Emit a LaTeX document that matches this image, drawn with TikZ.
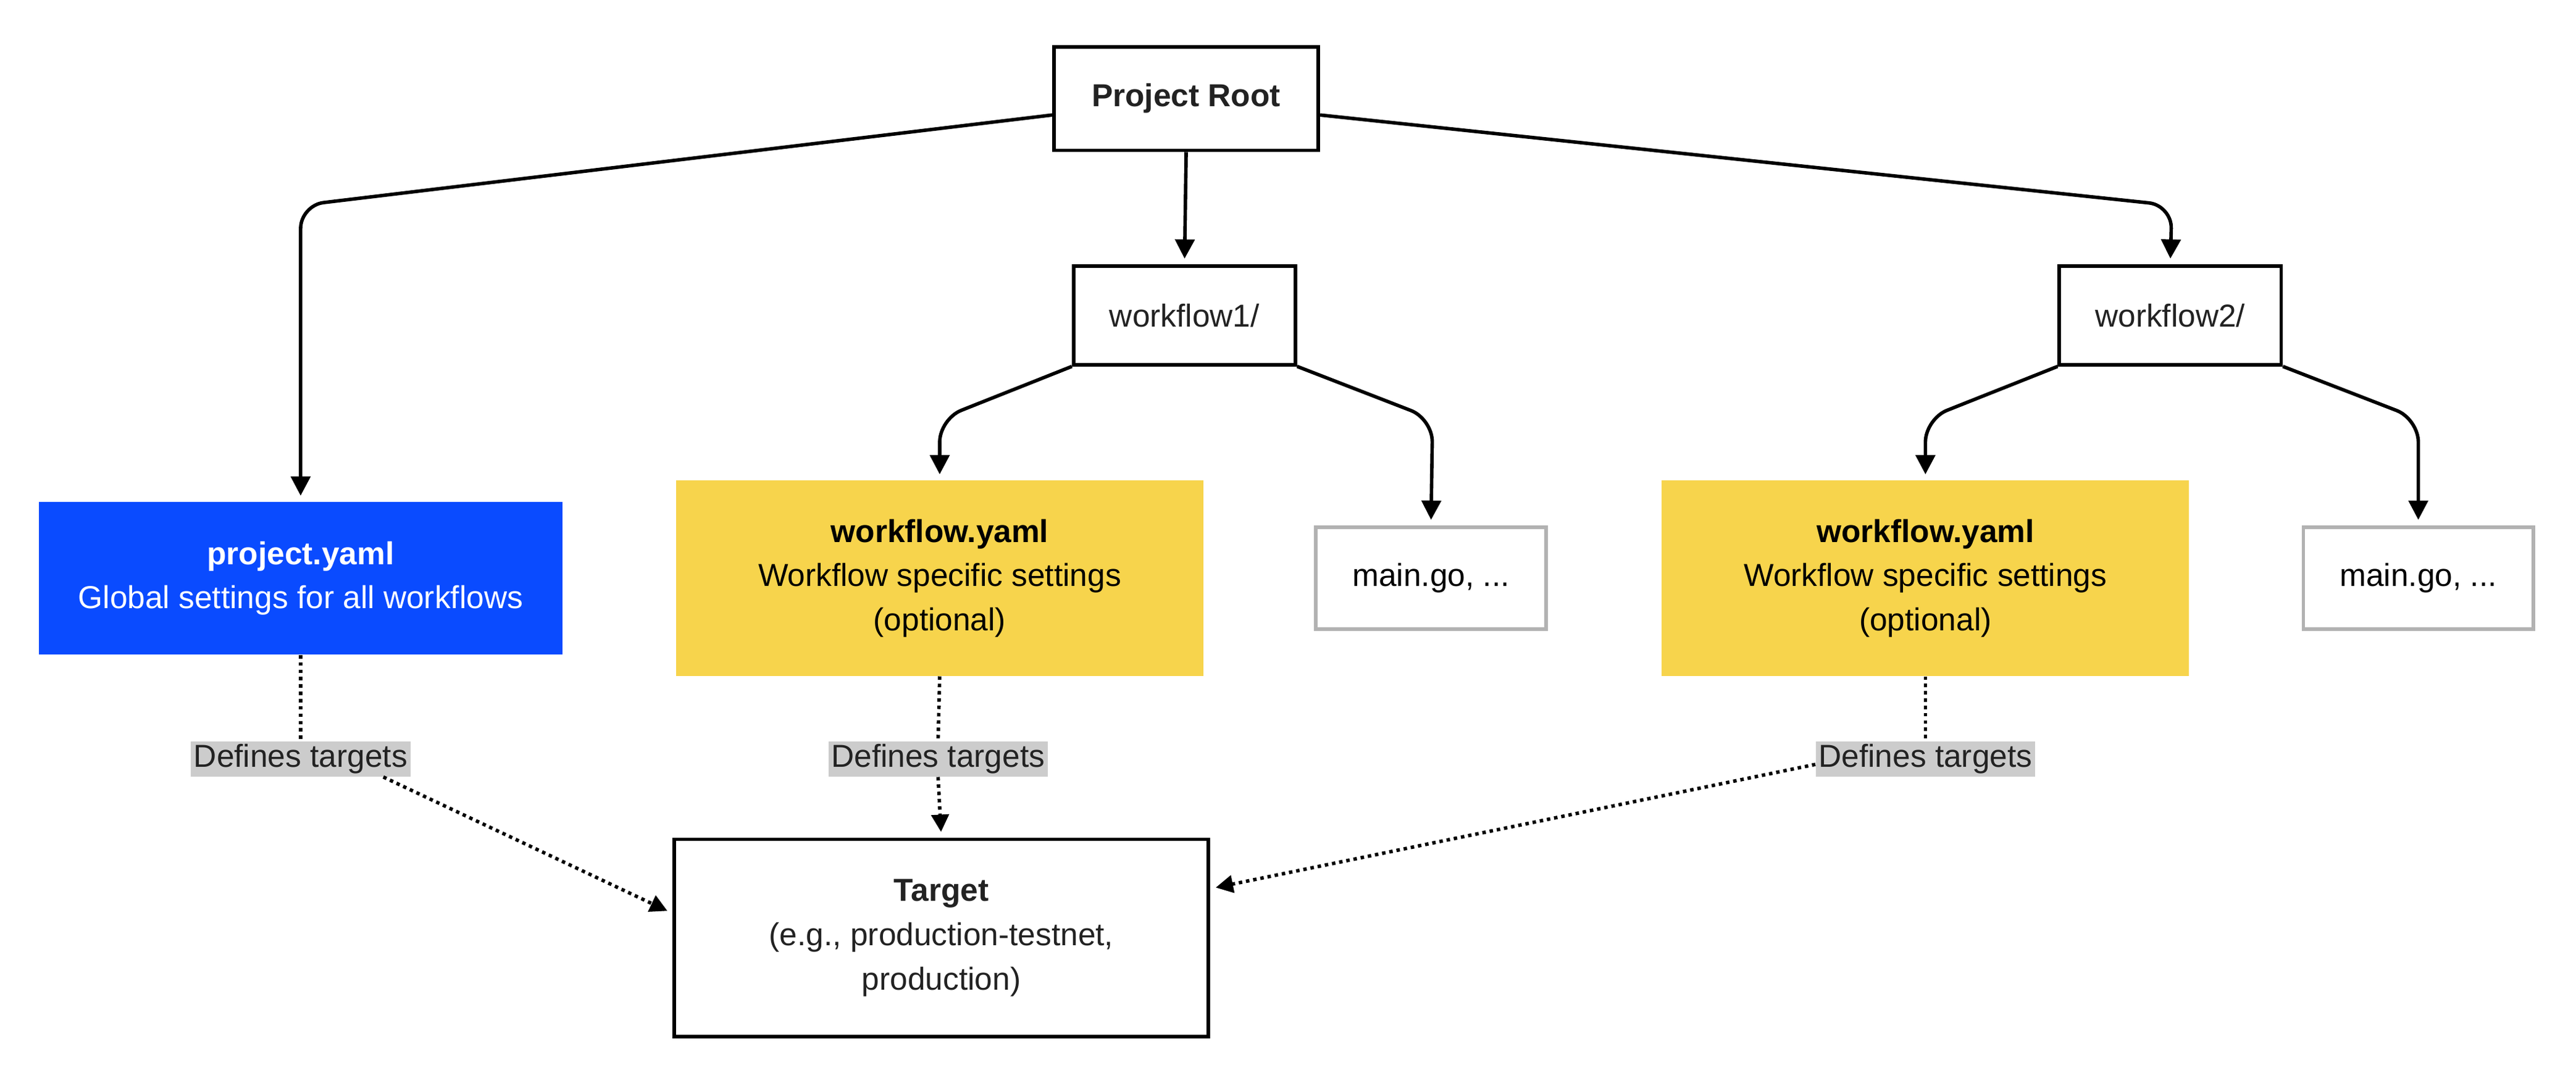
\documentclass[tikz,border=0pt]{standalone}
\usepackage{fontspec}
\setmainfont{Liberation Sans}
\usepackage{tikz}
\usetikzlibrary{arrows.meta,calc}

\definecolor{projblue}{HTML}{0A4BFF}
\definecolor{wfyellow}{HTML}{F7D44C}
\definecolor{labgray}{HTML}{CCCCCC}
\definecolor{ink}{HTML}{222222}

\tikzset{
  box/.style={draw=black, line width=1.8pt, fill=white, align=center, text=ink,
    font=\fontsize{16.5}{23}\selectfont},
  filebox/.style={draw=black!30, line width=1.8pt, fill=white, align=center, text=black,
    minimum width=4.2cm, minimum height=1.86cm, font=\fontsize{16.5}{23}\selectfont},
  settings/.style={align=center, minimum width=9.63cm, minimum height=3.57cm,
    font=\fontsize{16.5}{23}\selectfont},
  tag/.style={fill=labgray, inner sep=1.5pt, text=ink, font=\fontsize{16.5}{19}\selectfont},
  arr/.style={-{Triangle[length=10pt,width=10pt]}, line width=1.8pt, rounded corners=12pt,
    shorten >=3pt},
  dots/.style={-{Triangle[length=9pt,width=9pt]}, line width=1.8pt, dotted, shorten >=3pt}
}

\begin{document}
\begin{tikzpicture}[x=0.03cm, y=-0.03cm]
  \useasboundingbox (0,0) rectangle (1568,661);

  % folders
  \node[box, minimum width=4.83cm, minimum height=1.89cm, font=\fontsize{16.5}{23}\selectfont\bfseries] (root) at (722,60) {Project Root};
  \node[box, minimum width=4.05cm, minimum height=1.8cm] (wf1) at (721,192) {workflow1/};
  \node[box, minimum width=4.05cm, minimum height=1.8cm] (wf2) at (1321,192) {workflow2/};

  % files
  \node[settings, fill=projblue, text=white, minimum width=9.57cm, minimum height=2.79cm] (proj) at (183,352)
    {\textbf{project.yaml}\\Global settings for all workflows};
  \node[settings, fill=wfyellow, text=black] (yaml1) at (572,352)
    {\textbf{workflow.yaml}\\Workflow specific settings\\(optional)};
  \node[settings, fill=wfyellow, text=black] (yaml2) at (1172,352)
    {\textbf{workflow.yaml}\\Workflow specific settings\\(optional)};
  \node[filebox] (main1) at (871,352) {main.go, ...};
  \node[filebox] (main2) at (1472,352) {main.go, ...};

  \node[box, minimum width=9.75cm, minimum height=3.6cm] (target) at (573,571)
    {\textbf{Target}\\(e.g., production-testnet,\\production)};

  % tree
  \coordinate (c1) at (183,125);
  \coordinate (c2) at (1322,125);
  \coordinate (c3) at (572,255);
  \coordinate (c4) at (872,255);
  \coordinate (c5) at (1172,255);
  \coordinate (c6) at (1472,255);
  \draw[arr] ([yshift=-0.3cm]root.west) -- (c1) -- (proj.north);
  \draw[arr] (root.south) -- (wf1.north);
  \draw[arr] ([yshift=-0.3cm]root.east) -- (c2) -- (wf2.north);
  \draw[arr] (wf1.south west) -- (c3) -- (yaml1.north);
  \draw[arr] (wf1.south east) -- (c4) -- (main1.north);
  \draw[arr] (wf2.south west) -- (c5) -- (yaml2.north);
  \draw[arr] (wf2.south east) -- (c6) -- (main2.north);

  % targets
  \node[tag] (t1) at (183,462) {Defines targets};
  \node[tag] (t2) at (571,462) {Defines targets};
  \node[tag] (t3) at (1172,462) {Defines targets};
  \draw[line width=1.8pt, dotted] (proj.south) -- (t1.north);
  \draw[line width=1.8pt, dotted] (yaml1.south) -- (t2.north);
  \draw[line width=1.8pt, dotted] (yaml2.south) -- (t3.north);
  \draw[dots] ([xshift=-0.5cm]t1.south east) -- ([yshift=0.45cm]target.west);
  \draw[dots] (t2.south) -- (target.north);
  \draw[dots] ([yshift=-0.1cm]t3.west) -- ([yshift=0.9cm]target.east);
\end{tikzpicture}
\end{document}
